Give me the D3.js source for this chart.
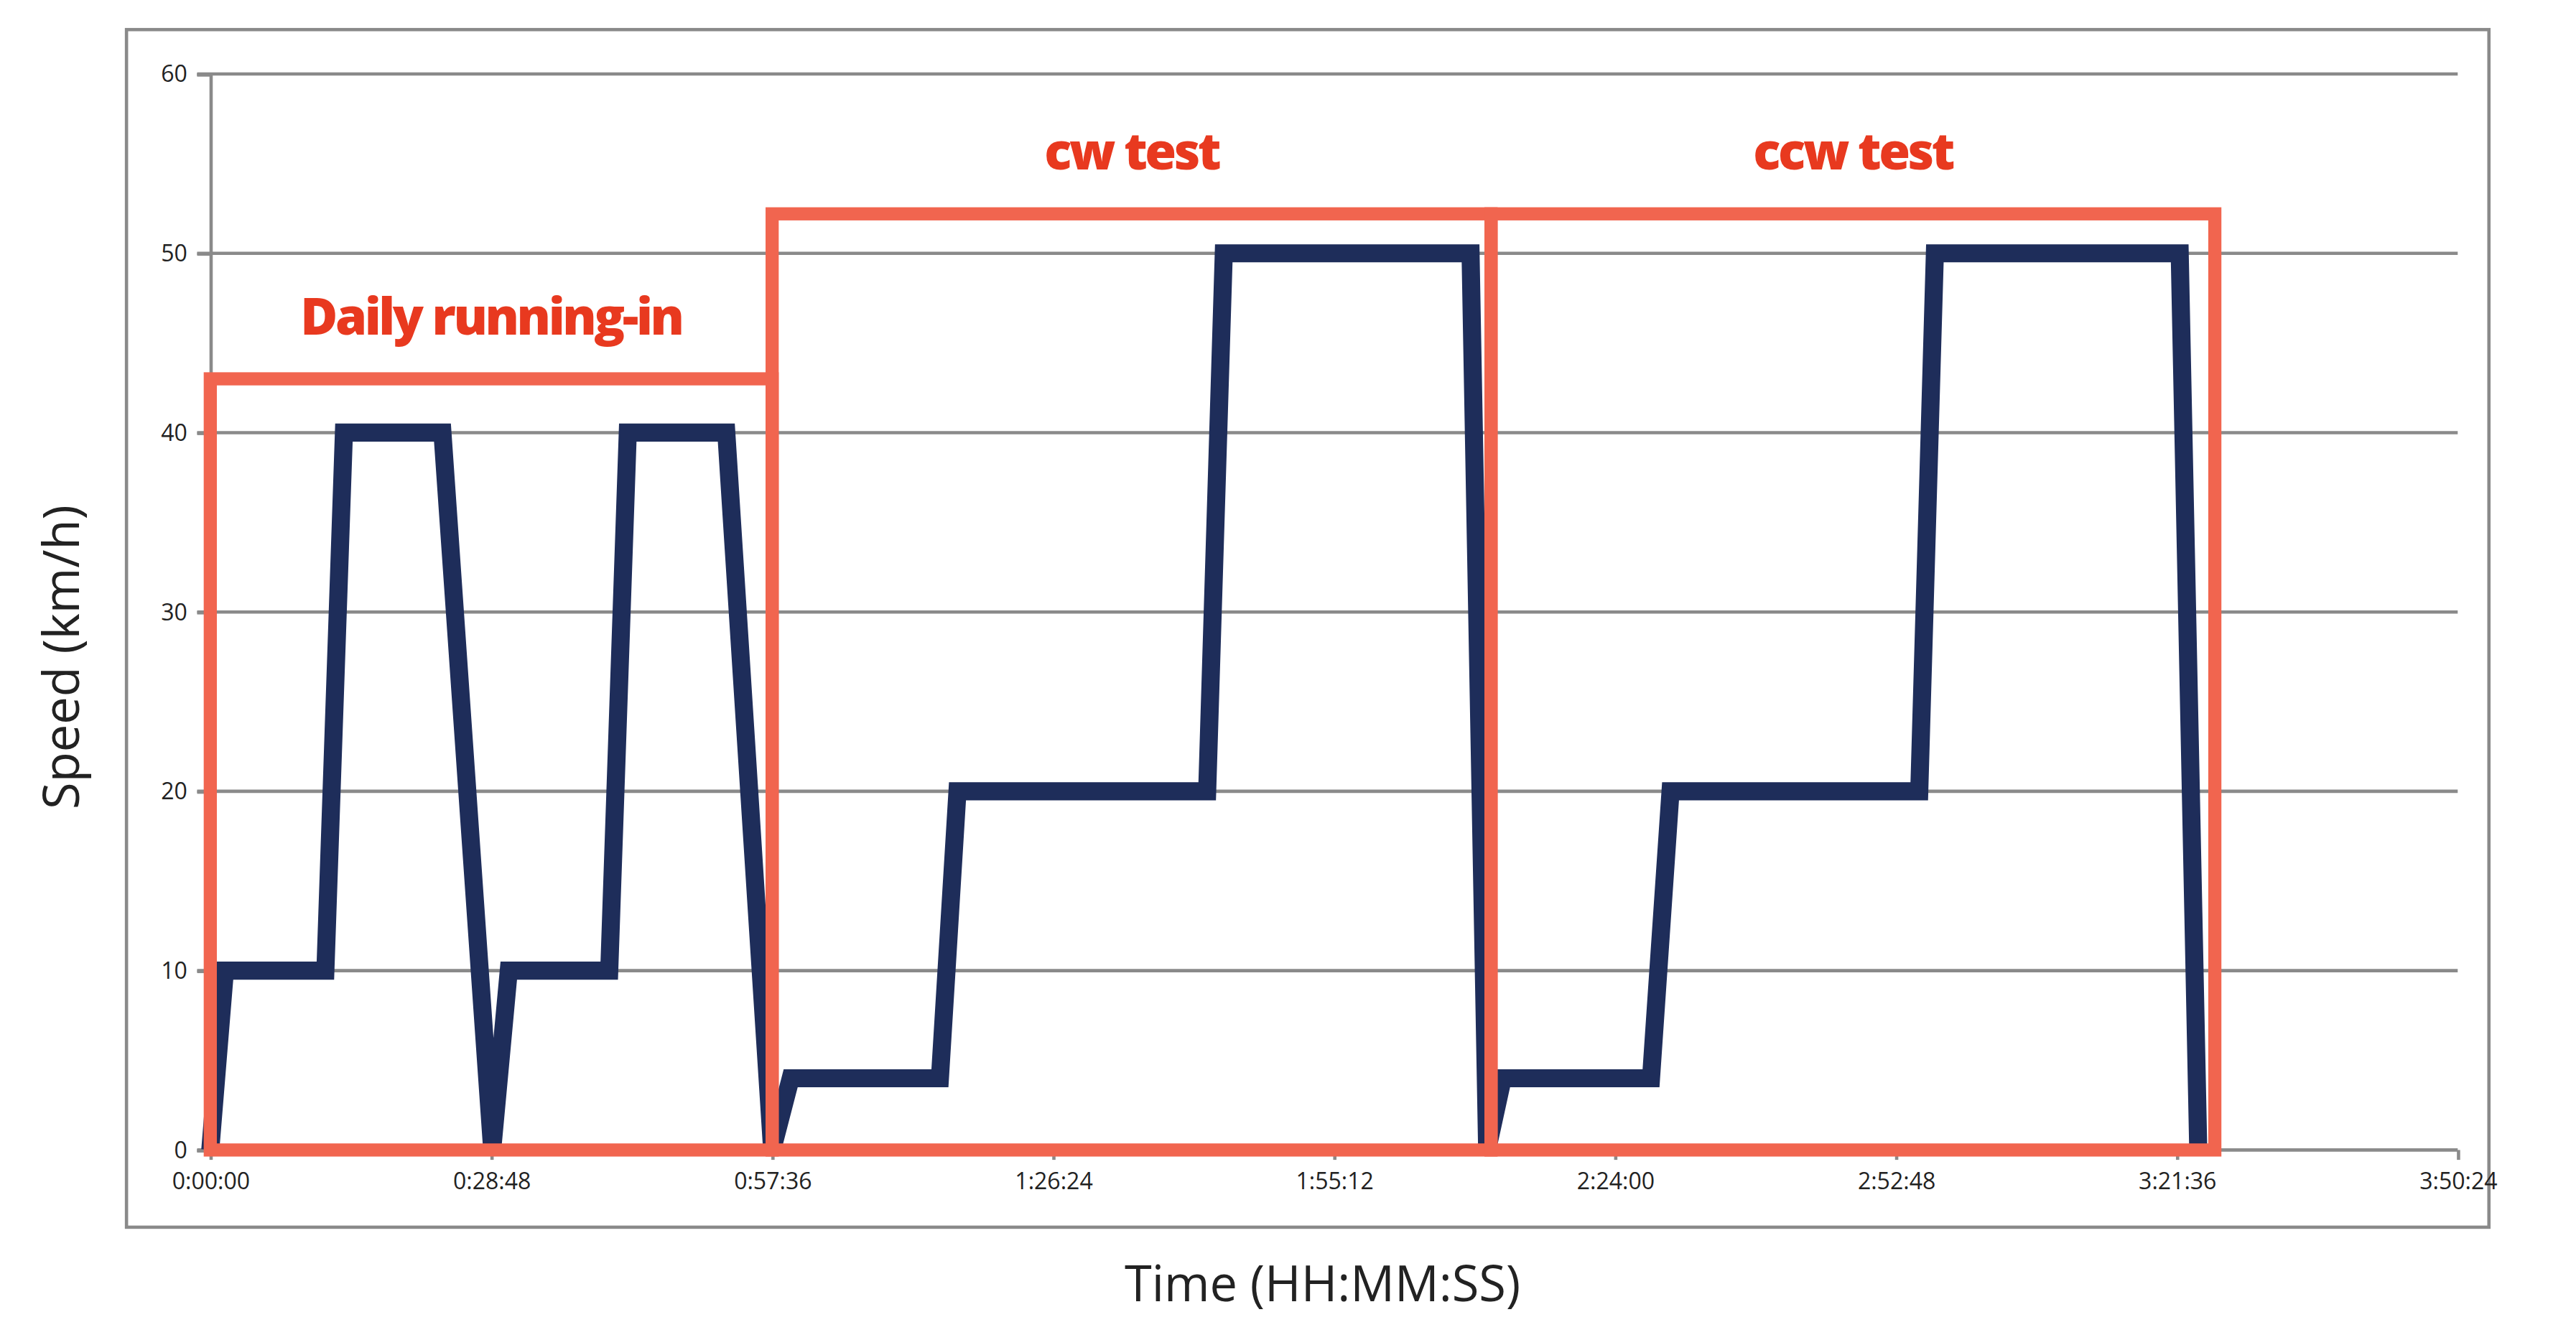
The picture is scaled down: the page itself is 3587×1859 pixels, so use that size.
<!DOCTYPE html>
<html><head><meta charset="utf-8">
<script src="https://cdn.jsdelivr.net/npm/d3@7"></script>
<style>html,body{margin:0;background:#fff}svg{display:block}</style>
</head><body>
<svg id="chart" width="3587" height="1859"></svg>
<script>
// time in minutes, speed in km/h
const timeMin = [0, 1.5, 11.8, 13.7, 23.8, 28.9, 30.6, 40.9, 42.8, 52.9, 57.6, 59.5, 74.8, 76.6, 102.2, 103.9, 129.2, 130.9, 132.5, 147.7, 149.7, 175.2, 176.8, 201.9, 203.8];
const speed   = [0, 10, 10, 40, 40, 0, 10, 10, 40, 40, 0, 4, 4, 20, 20, 50, 50, 0, 4, 4, 20, 20, 50, 50, 0];
const yTicks = [0, 10, 20, 30, 40, 50, 60];
const xTicksMin = [0, 28.8, 57.6, 86.4, 115.2, 144, 172.8, 201.6, 230.4];
const boxes = [
  {label: "Daily running-in", x0: 0, x1: 57.6, top: 43},
  {label: "cw test", x0: 57.6, x1: 131.3, top: 52.2},
  {label: "ccw test", x0: 131.3, x1: 205.5, top: 52.2}
];

const svg = d3.select("#chart").attr("viewBox", "0 0 1568 812.6");
const x = d3.scaleLinear().domain([0, 230.4]).range([128, 1496]);
const y = d3.scaleLinear().domain([0, 60]).range([700, 45]);

const fmt = m => {
  const s = Math.round(m * 60);
  return Math.floor(s / 3600) + ":" + String(Math.floor(s % 3600 / 60)).padStart(2, "0") + ":" + String(s % 60).padStart(2, "0");
};

svg.append("rect").attr("x", 77).attr("y", 18).attr("width", 1438).attr("height", 729)
  .attr("fill", "none").attr("stroke", "#8a8a8a").attr("stroke-width", 2);

// gridlines
svg.append("g").selectAll("line").data(yTicks.filter(d => d > 0)).join("line")
  .attr("x1", 120).attr("x2", 1496).attr("y1", d => y(d)).attr("y2", d => y(d))
  .attr("stroke", "#8a8a8a").attr("stroke-width", 2);

const yAxis = svg.append("g").attr("transform", "translate(128,0)")
  .call(d3.axisLeft(y).tickValues(yTicks).tickSize(8).tickPadding(6));
const xAxis = svg.append("g").attr("transform", "translate(0,700)")
  .call(d3.axisBottom(x).tickValues(xTicksMin).tickFormat(fmt).tickSize(6).tickPadding(8));
[xAxis, yAxis].forEach(a => {
  a.select(".domain").attr("stroke", "#8a8a8a").attr("stroke-width", 2);
  a.selectAll(".tick line").attr("stroke", "#8a8a8a").attr("stroke-width", 2);
  a.selectAll("text").attr("font-family", "Open Sans, sans-serif").attr("font-size", 14).attr("fill", "#222");
});
xAxis.select(".domain").attr("d", "M120,0H1496");

// data line
svg.append("path").datum(timeMin.map((t, i) => [t, speed[i]]))
  .attr("d", d3.line().x(d => x(d[0])).y(d => y(d[1])))
  .attr("fill", "none").attr("stroke", "#1e2d5a").attr("stroke-width", 11).attr("stroke-linejoin", "miter");

// red boxes
svg.append("g").selectAll("rect").data(boxes).join("rect")
  .attr("x", d => x(d.x0)).attr("y", d => y(d.top))
  .attr("width", d => x(d.x1) - x(d.x0)).attr("height", d => y(0) - y(d.top))
  .attr("fill", "none").attr("stroke", "#f1654f").attr("stroke-width", 8);

svg.append("g").selectAll("text").data(boxes).join("text")
  .attr("x", d => (x(d.x0) + x(d.x1)) / 2).attr("y", d => y(d.top) - 27)
  .attr("text-anchor", "middle").attr("font-family", "Open Sans, sans-serif").attr("font-weight", 800)
  .attr("font-size", 31).attr("letter-spacing", -1.5).attr("fill", "#e8391f").text(d => d.label);

svg.append("text").attr("x", 805).attr("y", 792).attr("text-anchor", "middle")
  .attr("font-family", "Open Sans, sans-serif").attr("font-size", 30).attr("fill", "#222").text("Time (HH:MM:SS)");
svg.append("text").attr("transform", "translate(48,400) rotate(-90)").attr("text-anchor", "middle")
  .attr("font-family", "Open Sans, sans-serif").attr("font-size", 30).attr("fill", "#222").text("Speed (km/h)");
</script>
</body></html>
